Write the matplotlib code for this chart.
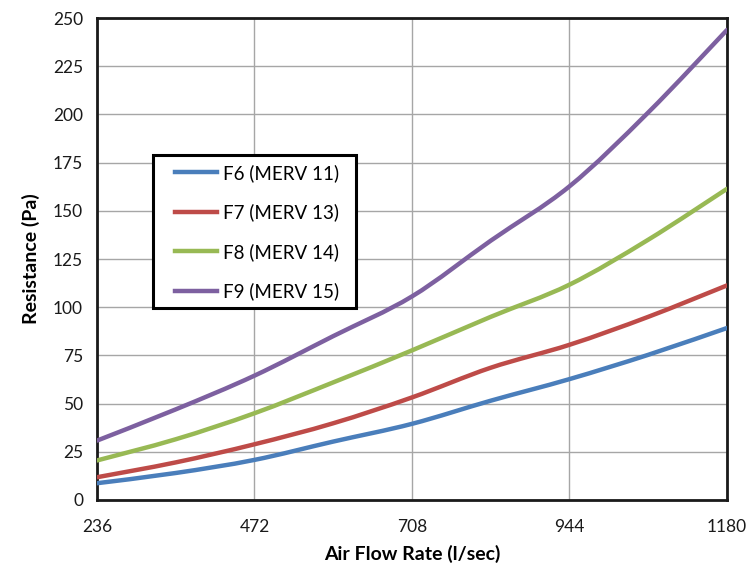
import numpy as np
import matplotlib
matplotlib.use("Agg")
import matplotlib.pyplot as plt
from matplotlib.path import Path
from matplotlib.patches import PathPatch, Rectangle
from matplotlib.lines import Line2D

# air flow (l/sec) and resistance (Pa)
flow = [236, 354, 472, 590, 708, 826, 944, 1062, 1180]
f6 = [8.7, 14.0, 20.8, 30.3, 39.5, 51.5, 62.7, 75.3, 89.2]
f7 = [11.8, 19.5, 28.9, 39.8, 53.2, 68.6, 80.5, 95.0, 111.3]
f8 = [20.5, 31.5, 45.0, 61.0, 77.6, 95.0, 111.7, 135.0, 161.4]
f9 = [30.8, 47.0, 64.5, 85.0, 105.6, 134.5, 162.7, 201.0, 243.8]

labels = ["F6 (MERV 11)", "F7 (MERV 13)", "F8 (MERV 14)", "F9 (MERV 15)"]
colors = ["#4a7ebb", "#be4b48", "#98b954", "#7d60a0"]
xticks = [236, 472, 708, 944, 1180]
yticks = list(range(0, 251, 25))

plt.rcParams["font.family"] = ["Lato", "DejaVu Sans"]


def smooth_path(x, y, tension=1 / 6):
    """Bezier path through the points, like Excel's smoothed line."""
    pts = np.column_stack([np.asarray(x, float), np.asarray(y, float)])
    verts = [pts[0]]
    codes = [Path.MOVETO]
    n = len(pts)
    for i in range(n - 1):
        p0 = pts[i - 1] if i > 0 else pts[i]
        p1 = pts[i]
        p2 = pts[i + 1]
        p3 = pts[i + 2] if i + 2 < n else pts[i + 1]
        verts += [p1 + (p2 - p0) * tension, p2 - (p3 - p1) * tension, p2]
        codes += [Path.CURVE4] * 3
    return Path(verts, codes)


fig = plt.figure(figsize=(7.49, 5.72), dpi=100)
ax = fig.add_axes([0.1295, 0.1259, 0.8411, 0.8426])

handles = []
for ys, lab, c in zip([f6, f7, f8, f9], labels, colors):
    ax.add_patch(PathPatch(smooth_path(flow, ys), fill=False, edgecolor=c,
                           lw=3.2, capstyle="round", zorder=3))
    handles.append(Line2D([], [], color=c, lw=3.2, label=lab))

ax.set_xlim(236, 1180)
ax.set_ylim(0, 250)
ax.set_xticks(xticks)
ax.set_yticks(yticks)
ax.tick_params(length=0, labelsize=12.5, colors="#1a1a1a")
ax.tick_params(axis="x", pad=14)
ax.tick_params(axis="y", pad=10)
ax.grid(True, color="#a6a6a6", lw=1)
ax.set_axisbelow(True)
for s in ax.spines.values():
    s.set_linewidth(2)
    s.set_color("#1a1a1a")

ax.set_xlabel("Air Flow Rate (l/sec)", fontsize=14, fontweight="bold", labelpad=7)
ax.set_ylabel("Resistance (Pa)", fontsize=14, fontweight="bold", labelpad=9)

# legend box drawn separately so the insets match the original
ax.add_patch(Rectangle((0.089, 0.398), 0.322, 0.318, transform=ax.transAxes,
                       facecolor="white", edgecolor="black", lw=2.2, zorder=5))
leg = ax.legend(handles=handles, loc="upper left", bbox_to_anchor=(0.124, 0.697),
                fontsize=13.5, frameon=False, handlelength=2.25,
                handletextpad=0.3, labelspacing=1.15, borderpad=0,
                borderaxespad=0)
leg.set_zorder(6)

fig.savefig("out.png", dpi=100)
